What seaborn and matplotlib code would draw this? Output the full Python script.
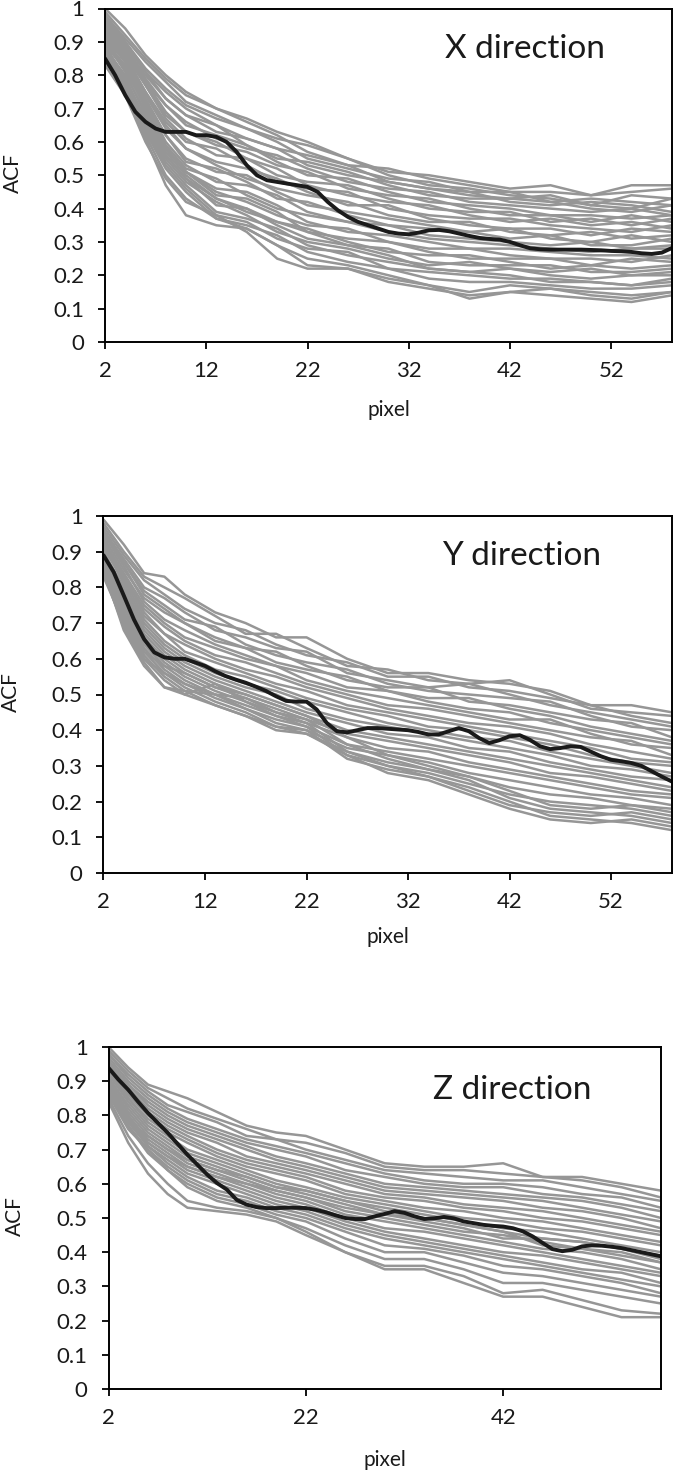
import numpy as np
import pandas as pd
import matplotlib
matplotlib.use("Agg")
import matplotlib.pyplot as plt
import seaborn as sns

# sample positions of the individual (gray) curves
x_gray = [2, 4, 6, 8, 10, 13, 16, 19, 22, 26, 30, 34, 38, 42, 46, 50, 54, 58]
# positions of the mean (black) curves
x_mean = list(range(2, 59))

gray_x = [
    [1.00, 0.94, 0.86, 0.80, 0.75, 0.70, 0.67, 0.63, 0.60, 0.55, 0.51, 0.50, 0.48, 0.46, 0.47, 0.44, 0.47, 0.47],
    [0.99, 0.92, 0.85, 0.79, 0.74, 0.70, 0.66, 0.62, 0.57, 0.53, 0.52, 0.49, 0.47, 0.45, 0.45, 0.44, 0.45, 0.46],
    [0.98, 0.91, 0.84, 0.78, 0.72, 0.68, 0.64, 0.61, 0.59, 0.55, 0.50, 0.47, 0.46, 0.44, 0.43, 0.41, 0.44, 0.43],
    [0.97, 0.90, 0.82, 0.76, 0.71, 0.67, 0.64, 0.60, 0.55, 0.52, 0.49, 0.48, 0.45, 0.45, 0.42, 0.43, 0.42, 0.41],
    [0.96, 0.89, 0.81, 0.75, 0.70, 0.65, 0.61, 0.58, 0.56, 0.53, 0.48, 0.46, 0.44, 0.43, 0.44, 0.41, 0.40, 0.43],
    [0.98, 0.90, 0.81, 0.73, 0.68, 0.63, 0.61, 0.58, 0.53, 0.50, 0.48, 0.46, 0.45, 0.42, 0.41, 0.42, 0.41, 0.39],
    [0.95, 0.88, 0.80, 0.73, 0.68, 0.65, 0.59, 0.55, 0.54, 0.51, 0.47, 0.44, 0.43, 0.43, 0.42, 0.40, 0.39, 0.41],
    [0.97, 0.89, 0.79, 0.71, 0.66, 0.61, 0.58, 0.56, 0.52, 0.48, 0.46, 0.45, 0.42, 0.41, 0.40, 0.39, 0.40, 0.38],
    [0.94, 0.87, 0.78, 0.71, 0.65, 0.62, 0.59, 0.54, 0.50, 0.49, 0.45, 0.42, 0.41, 0.40, 0.38, 0.38, 0.37, 0.38],
    [0.96, 0.88, 0.78, 0.69, 0.63, 0.59, 0.57, 0.53, 0.51, 0.46, 0.44, 0.43, 0.40, 0.38, 0.38, 0.36, 0.38, 0.36],
    [0.93, 0.86, 0.77, 0.68, 0.63, 0.60, 0.55, 0.50, 0.48, 0.47, 0.43, 0.40, 0.39, 0.39, 0.36, 0.37, 0.35, 0.37],
    [0.95, 0.87, 0.77, 0.67, 0.61, 0.56, 0.55, 0.52, 0.47, 0.44, 0.42, 0.41, 0.38, 0.36, 0.37, 0.35, 0.36, 0.34],
    [0.92, 0.85, 0.75, 0.66, 0.60, 0.58, 0.53, 0.48, 0.46, 0.45, 0.40, 0.38, 0.37, 0.37, 0.35, 0.34, 0.33, 0.35],
    [0.94, 0.86, 0.75, 0.65, 0.58, 0.54, 0.52, 0.49, 0.45, 0.41, 0.41, 0.37, 0.35, 0.34, 0.34, 0.32, 0.34, 0.33],
    [0.91, 0.84, 0.74, 0.64, 0.58, 0.53, 0.49, 0.46, 0.44, 0.42, 0.38, 0.36, 0.36, 0.33, 0.32, 0.33, 0.31, 0.32],
    [0.93, 0.85, 0.73, 0.62, 0.55, 0.51, 0.50, 0.45, 0.41, 0.39, 0.37, 0.35, 0.33, 0.34, 0.31, 0.30, 0.32, 0.30],
    [0.90, 0.83, 0.72, 0.62, 0.54, 0.52, 0.48, 0.43, 0.42, 0.38, 0.35, 0.34, 0.33, 0.31, 0.32, 0.29, 0.29, 0.31],
    [0.92, 0.84, 0.72, 0.60, 0.53, 0.48, 0.47, 0.44, 0.39, 0.36, 0.35, 0.32, 0.31, 0.30, 0.29, 0.30, 0.28, 0.28],
    [0.89, 0.82, 0.71, 0.59, 0.52, 0.49, 0.44, 0.40, 0.38, 0.36, 0.33, 0.31, 0.30, 0.29, 0.28, 0.27, 0.28, 0.29],
    [0.91, 0.82, 0.70, 0.58, 0.51, 0.46, 0.45, 0.41, 0.36, 0.33, 0.32, 0.30, 0.28, 0.28, 0.27, 0.26, 0.26, 0.25],
    [0.88, 0.80, 0.69, 0.58, 0.51, 0.45, 0.42, 0.38, 0.35, 0.34, 0.30, 0.28, 0.28, 0.26, 0.25, 0.25, 0.24, 0.26],
    [0.90, 0.81, 0.68, 0.58, 0.51, 0.44, 0.43, 0.39, 0.33, 0.31, 0.30, 0.27, 0.25, 0.25, 0.25, 0.23, 0.25, 0.24],
    [0.87, 0.79, 0.67, 0.57, 0.50, 0.43, 0.39, 0.36, 0.34, 0.30, 0.27, 0.26, 0.26, 0.24, 0.22, 0.23, 0.22, 0.23],
    [0.89, 0.79, 0.66, 0.56, 0.49, 0.41, 0.40, 0.35, 0.31, 0.29, 0.28, 0.24, 0.23, 0.23, 0.23, 0.21, 0.21, 0.22],
    [0.86, 0.78, 0.65, 0.55, 0.48, 0.42, 0.38, 0.33, 0.30, 0.28, 0.25, 0.23, 0.24, 0.22, 0.21, 0.22, 0.20, 0.20],
    [0.88, 0.78, 0.64, 0.54, 0.47, 0.39, 0.37, 0.34, 0.29, 0.26, 0.24, 0.22, 0.21, 0.22, 0.20, 0.19, 0.20, 0.21],
    [0.85, 0.77, 0.64, 0.53, 0.46, 0.38, 0.36, 0.31, 0.28, 0.27, 0.22, 0.21, 0.20, 0.19, 0.19, 0.18, 0.17, 0.19],
    [0.87, 0.77, 0.63, 0.52, 0.45, 0.37, 0.35, 0.32, 0.27, 0.24, 0.22, 0.19, 0.18, 0.18, 0.17, 0.16, 0.16, 0.17],
    [0.84, 0.76, 0.62, 0.50, 0.43, 0.37, 0.34, 0.29, 0.25, 0.23, 0.20, 0.17, 0.15, 0.17, 0.16, 0.15, 0.14, 0.15],
    [0.86, 0.76, 0.61, 0.47, 0.38, 0.35, 0.34, 0.29, 0.23, 0.22, 0.19, 0.17, 0.13, 0.15, 0.14, 0.13, 0.12, 0.14],
    [0.83, 0.74, 0.60, 0.49, 0.42, 0.38, 0.33, 0.25, 0.22, 0.22, 0.18, 0.16, 0.14, 0.15, 0.16, 0.14, 0.13, 0.15],
    [0.85, 0.77, 0.66, 0.56, 0.49, 0.43, 0.40, 0.36, 0.33, 0.29, 0.26, 0.22, 0.21, 0.20, 0.18, 0.18, 0.17, 0.18],
]

gray_y = [
    [0.99, 0.92, 0.84, 0.83, 0.78, 0.73, 0.70, 0.66, 0.66, 0.60, 0.56, 0.56, 0.54, 0.53, 0.51, 0.47, 0.47, 0.45],
    [0.98, 0.90, 0.83, 0.80, 0.77, 0.72, 0.67, 0.67, 0.63, 0.58, 0.57, 0.54, 0.53, 0.54, 0.50, 0.46, 0.45, 0.44],
    [0.97, 0.89, 0.82, 0.78, 0.74, 0.70, 0.68, 0.64, 0.61, 0.59, 0.55, 0.55, 0.52, 0.51, 0.49, 0.47, 0.44, 0.42],
    [0.96, 0.88, 0.80, 0.77, 0.73, 0.68, 0.66, 0.63, 0.62, 0.56, 0.54, 0.52, 0.53, 0.50, 0.47, 0.45, 0.43, 0.41],
    [0.95, 0.87, 0.79, 0.75, 0.71, 0.69, 0.64, 0.61, 0.59, 0.57, 0.53, 0.51, 0.50, 0.49, 0.48, 0.44, 0.41, 0.40],
    [0.96, 0.87, 0.78, 0.74, 0.70, 0.66, 0.63, 0.62, 0.58, 0.54, 0.52, 0.52, 0.48, 0.47, 0.45, 0.43, 0.42, 0.38],
    [0.94, 0.85, 0.77, 0.73, 0.70, 0.65, 0.63, 0.59, 0.57, 0.55, 0.51, 0.49, 0.49, 0.46, 0.44, 0.41, 0.39, 0.37],
    [0.95, 0.86, 0.76, 0.71, 0.68, 0.64, 0.61, 0.58, 0.56, 0.52, 0.51, 0.48, 0.46, 0.45, 0.42, 0.40, 0.38, 0.36],
    [0.93, 0.84, 0.75, 0.70, 0.66, 0.63, 0.60, 0.58, 0.54, 0.51, 0.49, 0.47, 0.45, 0.43, 0.43, 0.39, 0.36, 0.35],
    [0.92, 0.83, 0.74, 0.69, 0.65, 0.61, 0.59, 0.56, 0.53, 0.50, 0.47, 0.46, 0.44, 0.42, 0.40, 0.38, 0.37, 0.33],
    [0.93, 0.83, 0.73, 0.67, 0.64, 0.60, 0.57, 0.55, 0.52, 0.49, 0.46, 0.44, 0.42, 0.41, 0.39, 0.36, 0.34, 0.32],
    [0.91, 0.82, 0.72, 0.67, 0.62, 0.59, 0.56, 0.53, 0.51, 0.47, 0.45, 0.43, 0.41, 0.39, 0.37, 0.35, 0.32, 0.31],
    [0.92, 0.81, 0.71, 0.65, 0.61, 0.57, 0.55, 0.52, 0.49, 0.46, 0.44, 0.41, 0.40, 0.38, 0.36, 0.33, 0.31, 0.30],
    [0.90, 0.80, 0.70, 0.64, 0.60, 0.56, 0.53, 0.51, 0.48, 0.45, 0.42, 0.40, 0.38, 0.37, 0.34, 0.32, 0.30, 0.28],
    [0.89, 0.79, 0.69, 0.63, 0.59, 0.55, 0.52, 0.50, 0.46, 0.43, 0.41, 0.39, 0.37, 0.35, 0.33, 0.30, 0.29, 0.27],
    [0.90, 0.78, 0.68, 0.62, 0.58, 0.54, 0.51, 0.48, 0.45, 0.42, 0.39, 0.38, 0.35, 0.34, 0.31, 0.29, 0.27, 0.26],
    [0.88, 0.77, 0.67, 0.61, 0.57, 0.53, 0.50, 0.47, 0.44, 0.40, 0.38, 0.36, 0.34, 0.32, 0.30, 0.28, 0.26, 0.24],
    [0.89, 0.76, 0.66, 0.60, 0.56, 0.52, 0.49, 0.46, 0.43, 0.39, 0.37, 0.35, 0.33, 0.31, 0.28, 0.27, 0.25, 0.23],
    [0.87, 0.75, 0.65, 0.59, 0.55, 0.51, 0.48, 0.45, 0.42, 0.38, 0.35, 0.34, 0.31, 0.29, 0.27, 0.25, 0.23, 0.22],
    [0.88, 0.74, 0.64, 0.58, 0.54, 0.50, 0.47, 0.44, 0.41, 0.36, 0.34, 0.32, 0.30, 0.28, 0.26, 0.24, 0.22, 0.21],
    [0.86, 0.73, 0.63, 0.57, 0.53, 0.49, 0.46, 0.42, 0.40, 0.35, 0.33, 0.31, 0.28, 0.26, 0.24, 0.22, 0.21, 0.19],
    [0.87, 0.72, 0.62, 0.56, 0.52, 0.48, 0.45, 0.41, 0.39, 0.34, 0.31, 0.29, 0.27, 0.24, 0.22, 0.21, 0.19, 0.18],
    [0.85, 0.71, 0.61, 0.55, 0.51, 0.47, 0.44, 0.40, 0.39, 0.33, 0.30, 0.28, 0.25, 0.22, 0.20, 0.19, 0.18, 0.16],
    [0.86, 0.70, 0.60, 0.54, 0.50, 0.47, 0.44, 0.41, 0.40, 0.32, 0.29, 0.27, 0.23, 0.19, 0.17, 0.16, 0.17, 0.15],
    [0.84, 0.69, 0.59, 0.52, 0.51, 0.50, 0.46, 0.43, 0.41, 0.33, 0.28, 0.26, 0.22, 0.18, 0.15, 0.14, 0.15, 0.13],
    [0.85, 0.68, 0.58, 0.52, 0.50, 0.53, 0.48, 0.44, 0.42, 0.34, 0.30, 0.27, 0.24, 0.20, 0.16, 0.15, 0.14, 0.12],
    [0.83, 0.70, 0.60, 0.56, 0.53, 0.50, 0.49, 0.45, 0.43, 0.36, 0.32, 0.29, 0.26, 0.21, 0.18, 0.17, 0.16, 0.14],
    [0.84, 0.72, 0.62, 0.58, 0.56, 0.52, 0.50, 0.47, 0.44, 0.38, 0.33, 0.30, 0.27, 0.23, 0.19, 0.18, 0.19, 0.17],
]

gray_z = [
    [1.00, 0.94, 0.89, 0.87, 0.85, 0.81, 0.77, 0.75, 0.74, 0.70, 0.66, 0.65, 0.65, 0.66, 0.62, 0.62, 0.60, 0.58],
    [0.99, 0.93, 0.88, 0.85, 0.82, 0.79, 0.76, 0.73, 0.72, 0.69, 0.65, 0.64, 0.64, 0.63, 0.62, 0.61, 0.59, 0.56],
    [0.98, 0.92, 0.87, 0.83, 0.81, 0.78, 0.74, 0.73, 0.70, 0.67, 0.64, 0.63, 0.62, 0.61, 0.61, 0.59, 0.57, 0.55],
    [0.98, 0.91, 0.86, 0.82, 0.79, 0.76, 0.73, 0.71, 0.69, 0.66, 0.63, 0.61, 0.60, 0.60, 0.59, 0.57, 0.56, 0.53],
    [0.97, 0.90, 0.85, 0.81, 0.78, 0.75, 0.72, 0.70, 0.68, 0.64, 0.62, 0.60, 0.59, 0.59, 0.57, 0.56, 0.54, 0.52],
    [0.96, 0.89, 0.84, 0.80, 0.77, 0.74, 0.71, 0.68, 0.66, 0.63, 0.60, 0.59, 0.58, 0.57, 0.56, 0.55, 0.53, 0.50],
    [0.96, 0.89, 0.83, 0.79, 0.76, 0.73, 0.70, 0.67, 0.65, 0.62, 0.59, 0.58, 0.57, 0.56, 0.55, 0.53, 0.51, 0.49],
    [0.95, 0.88, 0.82, 0.78, 0.75, 0.72, 0.68, 0.66, 0.64, 0.61, 0.58, 0.57, 0.56, 0.55, 0.53, 0.52, 0.50, 0.47],
    [0.95, 0.87, 0.81, 0.77, 0.74, 0.70, 0.67, 0.65, 0.63, 0.60, 0.57, 0.56, 0.54, 0.53, 0.52, 0.50, 0.48, 0.46],
    [0.94, 0.86, 0.80, 0.76, 0.73, 0.69, 0.66, 0.64, 0.62, 0.58, 0.56, 0.55, 0.53, 0.52, 0.50, 0.49, 0.47, 0.45],
    [0.93, 0.85, 0.79, 0.75, 0.72, 0.68, 0.65, 0.63, 0.61, 0.57, 0.55, 0.53, 0.52, 0.50, 0.49, 0.47, 0.45, 0.43],
    [0.93, 0.85, 0.78, 0.74, 0.70, 0.67, 0.64, 0.61, 0.59, 0.56, 0.54, 0.52, 0.50, 0.49, 0.47, 0.46, 0.44, 0.42],
    [0.92, 0.84, 0.77, 0.73, 0.69, 0.66, 0.63, 0.60, 0.58, 0.55, 0.53, 0.51, 0.49, 0.47, 0.46, 0.44, 0.42, 0.40],
    [0.91, 0.83, 0.76, 0.72, 0.68, 0.65, 0.62, 0.59, 0.57, 0.54, 0.51, 0.50, 0.48, 0.46, 0.44, 0.43, 0.41, 0.38],
    [0.91, 0.82, 0.75, 0.71, 0.67, 0.64, 0.61, 0.58, 0.56, 0.52, 0.50, 0.48, 0.46, 0.45, 0.43, 0.41, 0.39, 0.37],
    [0.90, 0.81, 0.74, 0.70, 0.66, 0.63, 0.60, 0.57, 0.55, 0.51, 0.49, 0.47, 0.45, 0.43, 0.41, 0.40, 0.38, 0.35],
    [0.89, 0.80, 0.73, 0.69, 0.65, 0.62, 0.59, 0.56, 0.54, 0.50, 0.47, 0.46, 0.44, 0.42, 0.40, 0.38, 0.36, 0.34],
    [0.90, 0.80, 0.72, 0.68, 0.64, 0.61, 0.58, 0.55, 0.53, 0.49, 0.46, 0.44, 0.42, 0.40, 0.39, 0.37, 0.35, 0.33],
    [0.88, 0.79, 0.71, 0.67, 0.63, 0.60, 0.57, 0.54, 0.52, 0.48, 0.45, 0.43, 0.41, 0.39, 0.37, 0.35, 0.34, 0.31],
    [0.89, 0.78, 0.71, 0.66, 0.62, 0.58, 0.56, 0.53, 0.51, 0.47, 0.44, 0.42, 0.40, 0.38, 0.36, 0.34, 0.32, 0.30],
    [0.87, 0.77, 0.70, 0.65, 0.61, 0.57, 0.55, 0.52, 0.50, 0.46, 0.42, 0.41, 0.39, 0.36, 0.35, 0.33, 0.31, 0.28],
    [0.88, 0.77, 0.69, 0.64, 0.60, 0.56, 0.54, 0.51, 0.49, 0.44, 0.40, 0.40, 0.37, 0.34, 0.33, 0.31, 0.29, 0.27],
    [0.86, 0.76, 0.70, 0.64, 0.59, 0.55, 0.53, 0.50, 0.47, 0.42, 0.38, 0.38, 0.35, 0.31, 0.31, 0.29, 0.27, 0.25],
    [0.85, 0.74, 0.66, 0.60, 0.55, 0.53, 0.52, 0.50, 0.46, 0.40, 0.36, 0.36, 0.33, 0.28, 0.29, 0.26, 0.23, 0.22],
    [0.84, 0.72, 0.63, 0.57, 0.53, 0.52, 0.51, 0.49, 0.45, 0.40, 0.35, 0.35, 0.31, 0.27, 0.27, 0.24, 0.21, 0.21],
    [0.87, 0.79, 0.72, 0.68, 0.65, 0.62, 0.60, 0.58, 0.56, 0.53, 0.51, 0.49, 0.47, 0.44, 0.44, 0.43, 0.41, 0.39],
    [0.86, 0.78, 0.74, 0.70, 0.67, 0.64, 0.62, 0.59, 0.58, 0.55, 0.52, 0.50, 0.48, 0.46, 0.42, 0.41, 0.40, 0.37],
]

mean_x = [0.85, 0.80, 0.74, 0.69, 0.66, 0.64, 0.63, 0.63, 0.63, 0.62, 0.62, 0.615, 0.60, 0.57,
          0.53, 0.50, 0.485, 0.48, 0.475, 0.47, 0.465, 0.45, 0.42, 0.395, 0.375, 0.36, 0.35,
          0.34, 0.33, 0.325, 0.323, 0.328, 0.335, 0.336, 0.332, 0.325, 0.318, 0.312, 0.309,
          0.307, 0.30, 0.29, 0.281, 0.278, 0.277, 0.277, 0.277, 0.277, 0.276, 0.275, 0.273,
          0.272, 0.27, 0.266, 0.264, 0.268, 0.282]
mean_y = [0.89, 0.843, 0.777, 0.71, 0.655, 0.618, 0.604, 0.60, 0.60, 0.59, 0.58, 0.565, 0.552,
          0.542, 0.533, 0.522, 0.51, 0.495, 0.482, 0.48, 0.48, 0.458, 0.42, 0.397, 0.394, 0.40,
          0.406, 0.406, 0.404, 0.402, 0.40, 0.395, 0.388, 0.388, 0.397, 0.406, 0.397, 0.378,
          0.364, 0.372, 0.383, 0.386, 0.373, 0.355, 0.347, 0.35, 0.355, 0.353, 0.34, 0.327,
          0.317, 0.313, 0.308, 0.30, 0.285, 0.27, 0.256]
mean_z = [0.939, 0.905, 0.875, 0.84, 0.807, 0.778, 0.749, 0.717, 0.685, 0.656, 0.627, 0.602,
          0.583, 0.553, 0.539, 0.532, 0.529, 0.529, 0.53, 0.53, 0.529, 0.524, 0.517, 0.508,
          0.50, 0.497, 0.497, 0.505, 0.512, 0.52, 0.515, 0.505, 0.497, 0.499, 0.503, 0.499,
          0.49, 0.485, 0.48, 0.477, 0.475, 0.47, 0.461, 0.446, 0.427, 0.409, 0.403, 0.407,
          0.417, 0.42, 0.419, 0.416, 0.412, 0.406, 0.40, 0.394, 0.388]

titles = ["X direction", "Y direction", "Z direction"]
xticks_sets = [[2, 12, 22, 32, 42, 52], [2, 12, 22, 32, 42, 52], [2, 22, 42]]
yticks = [0, 0.1, 0.2, 0.3, 0.4, 0.5, 0.6, 0.7, 0.8, 0.9, 1]
ytick_labels = ["0", "0.1", "0.2", "0.3", "0.4", "0.5", "0.6", "0.7", "0.8", "0.9", "1"]

W, H = 675, 1472
# axes boxes in pixels: left, top, right, bottom
boxes = [(105, 8.5, 672, 342), (103.5, 516, 672, 873), (108.5, 1047, 661, 1389)]
xlabel_y = [410, 937, 1460]
ylabel_x = [13, 11, 15]
title_pos = [(0.74, 0.878), (0.735, 0.888), (0.73, 0.874)]


def to_long(curves, xs):
    rows = []
    for i, c in enumerate(curves):
        for xv, v in zip(xs, c):
            rows.append((i, xv, v))
    return pd.DataFrame(rows, columns=["sample", "pixel", "acf"])


sns.set_style("ticks")
plt.rcParams['font.family'] = ['Lato', 'DejaVu Sans']

fig = plt.figure(figsize=(W / 100, H / 100), dpi=100)

for k, (curves, mean, title) in enumerate(zip([gray_x, gray_y, gray_z],
                                              [mean_x, mean_y, mean_z], titles)):
    l, t, r, b = boxes[k]
    ax = fig.add_axes([l / W, 1 - b / H, (r - l) / W, (b - t) / H])

    df = to_long(curves, x_gray)
    sns.lineplot(data=df, x="pixel", y="acf", units="sample", estimator=None,
                 color="#969696", lw=1.8, ax=ax)
    sns.lineplot(x=x_mean, y=mean, color="#1a1a1a", lw=2.8, ax=ax)

    ax.set_xlim(2, 58)
    ax.set_ylim(0, 1)
    ax.set_xticks(xticks_sets[k])
    ax.set_yticks(yticks)
    ax.set_yticklabels(ytick_labels)
    for s in ax.spines.values():
        s.set_visible(True)
        s.set_color("black")
        s.set_linewidth(1.4)
    ax.tick_params(direction="out", length=5, width=1.3, colors="black",
                   labelsize=16, labelcolor="#1a1a1a")
    ax.tick_params(axis="y", pad=10)
    ax.tick_params(axis="x", pad=9)

    ax.set_xlabel("pixel", fontsize=15, color="#1a1a1a")
    ax.set_ylabel("ACF", fontsize=15, color="#1a1a1a")
    ax.xaxis.label.set_va("center")
    ax.yaxis.label.set_va("center")
    ax.xaxis.set_label_coords(0.5, -(xlabel_y[k] - b) / (b - t))
    ax.yaxis.set_label_coords(-(l - ylabel_x[k]) / (r - l), 0.507)

    ax.text(title_pos[k][0], title_pos[k][1], title, transform=ax.transAxes,
            ha="center", va="center", fontsize=24, color="#1a1a1a")

fig.savefig("out.png", dpi=100)
